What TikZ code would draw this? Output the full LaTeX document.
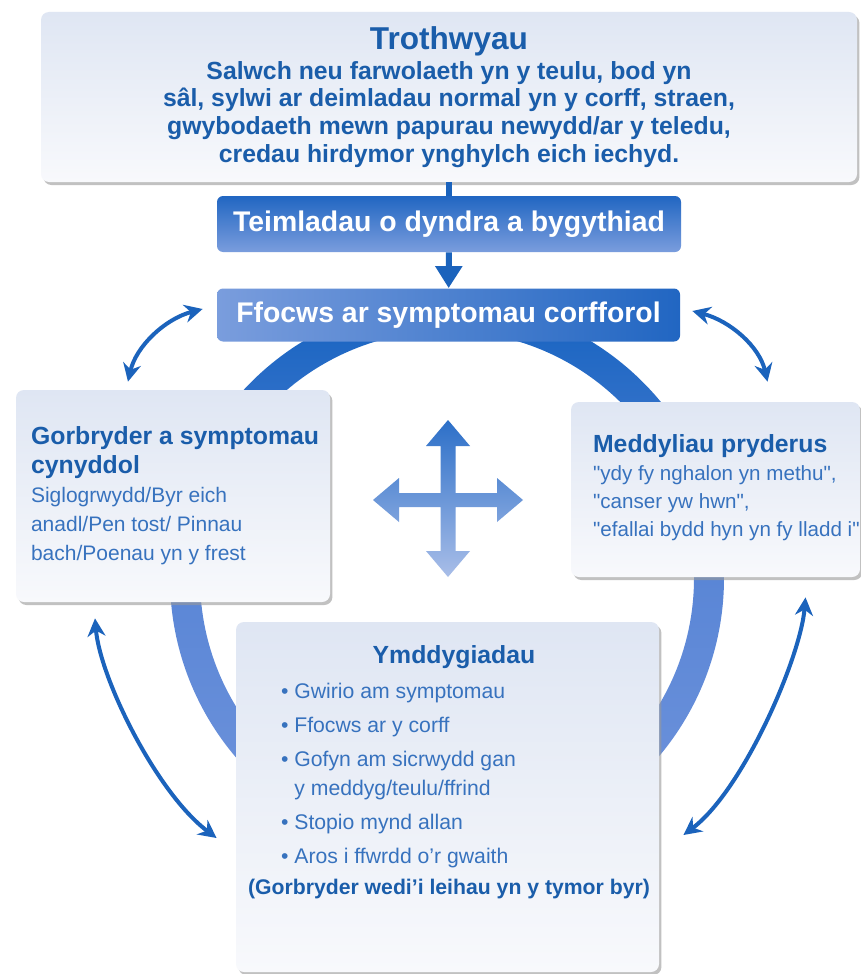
\documentclass[tikz,border=0pt]{standalone}
\usepackage{fontspec}
\setmainfont{Liberation Sans}
\usepackage{xcolor}
\usepackage{tikz}
\usetikzlibrary{arrows.meta,calc,positioning,shadows}

\definecolor{titleblue}{HTML}{1A5DAA}
\definecolor{bodyblue}{HTML}{3772BE}
\definecolor{arrowblue}{HTML}{1B63BC}
\definecolor{bnlight}{HTML}{7A9DDD}
\definecolor{bndark}{HTML}{2166C2}
\definecolor{boxtop}{HTML}{DFE6F3}
\definecolor{boxbot}{HTML}{F8F9FC}
\definecolor{ringtop}{HTML}{1562C0}
\definecolor{ringmid}{HTML}{5A86D6}
\definecolor{ringbot}{HTML}{7094DC}
\definecolor{crosstop}{HTML}{2C6FC8}
\definecolor{crossbot}{HTML}{A9BEE8}

\newcommand{\boxtitle}[1]{{\color{titleblue}\bfseries\fontsize{12.4}{14}\selectfont #1}}
\newcommand{\qq}{\textquotedbl}

\tikzset{
  infobox/.style={rounded corners=4pt, top color=boxtop, bottom color=boxbot, inner sep=0pt,
    drop shadow={shadow xshift=1.2pt, shadow yshift=-1.5pt, fill=black!40, opacity=.6}},
  banner/.style={rounded corners=3pt, text=white, inner sep=0pt,
    font=\bfseries\fontsize{14.2}{16}\selectfont},
  link/.style={arrowblue, line width=3pt},
  twoway/.style={arrowblue, line width=2pt,
    {Stealth[length=9pt,width=9pt]}-{Stealth[length=9pt,width=9pt]}},
}

\begin{document}
\begin{tikzpicture}[x=0.5pt,y=-0.5pt]
\fill[white] (0,0) rectangle (861,974);
\useasboundingbox (0,0) rectangle (861,974);

% ring behind the boxes
\shade[even odd rule, top color=ringtop, bottom color=ringbot, middle color=ringmid]
  (447,578) circle [radius=277] (447,578) circle [radius=247];

\node[infobox, minimum width=408pt, minimum height=85pt, align=center, text=titleblue,
  font=\bfseries\fontsize{12.4}{13.8}\selectfont] (thr) at (449,97)
  {{\fontsize{15.8}{17}\selectfont Trothwyau}\\[1pt]
   Salwch neu farwolaeth yn y teulu, bod yn\\
   sâl, sylwi ar deimladau normal yn y corff, straen,\\
   gwybodaeth mewn papurau newydd/ar y teledu,\\
   credau hirdymor ynghylch eich iechyd.};

\node[banner, top color=bndark, bottom color=bnlight, minimum width=232pt, minimum height=28pt]
  (feel) at (449,224) {Teimladau o dyndra a bygythiad};
\node[banner, left color=bnlight, right color=bndark, minimum width=231.5pt, minimum height=26.5pt]
  (focus) at (448.5,315) {Ffocws ar symptomau corfforol};

\node[infobox, minimum width=157pt, minimum height=106pt] (anx) at (173,496) {};
\node[anchor=north west, align=left, text=bodyblue, font=\fontsize{10.5}{14.5}\selectfont]
  (anxtxt) at (24,419)
  {\boxtitle{Gorbryder a symptomau}\\\boxtitle{cynyddol}\\
   Siglogrwydd/Byr eich\\anadl/Pen tost/ Pinnau\\bach/Poenau yn y frest};

\node[infobox, minimum width=144.5pt, minimum height=87.5pt] (thought) at (715.5,489.5) {};
\node[anchor=north west, align=left, text=bodyblue, font=\fontsize{10.3}{14}\selectfont]
  (thoughttxt) at (586,427)
  {\boxtitle{Meddyliau pryderus}\\\qq ydy fy nghalon yn methu\qq,\\\qq canser yw hwn\qq,\\
   \qq efallai bydd hyn yn fy lladd i\qq};

\node[infobox, minimum width=211.5pt, minimum height=175pt] (behav) at (447.5,797) {};
\node[text=titleblue, font=\bfseries\fontsize{12.4}{14}\selectfont] (behavttl) at (454,657) {Ymddygiadau};
\node[anchor=north west, align=left, text=bodyblue, font=\fontsize{10.6}{14.5}\selectfont]
  (behavlist) at (274,676)
  {• Gwirio am symptomau\\[2.5pt]
   • Ffocws ar y corff\\[2.5pt]
   • Gofyn am sicrwydd gan\\
   \phantom{• }y meddyg/teulu/ffrind\\[2.5pt]
   • Stopio mynd allan\\[2.5pt]
   • Aros i ffwrdd o’r gwaith};
\node[text=titleblue, font=\bfseries\fontsize{10.6}{12}\selectfont] (behavnote) at (449,889)
  {(Gorbryder wedi’i leihau yn y tymor byr)};

% four-way arrow in the middle
\begin{scope}[shift={(448,500)}]
\shade[top color=crosstop, bottom color=crossbot]
  (0,-80) -- (22,-54) -- (7.5,-54) -- (7.5,-7) -- (49,-7) -- (49,-22) -- (75,0)
  -- (49,22) -- (49,7) -- (7.5,7) -- (7.5,51) -- (22,51) -- (0,77) -- (-22,51)
  -- (-7.5,51) -- (-7.5,7) -- (-49,7) -- (-49,22) -- (-75,0) -- (-49,-22)
  -- (-49,-7) -- (-7.5,-7) -- (-7.5,-54) -- (-22,-54) -- cycle;
\end{scope}

\draw[link] (thr) -- (feel);
\draw[link, -{Triangle[length=11pt,width=13pt]}] (feel) -- (focus);

\draw[twoway] ($(anx.north)+(-45,-8)$) .. controls +(8,-35) and +(-38,10) .. ($(focus.west)+(-14,-6)$);
\draw[twoway] ($(focus.east)+(12,-4)$) .. controls +(38,10) and +(-8,-35) .. ($(thought.north)+(52,-20)$);
\draw[twoway] ($(anx.south)+(-78,16)$) .. controls +(5,60) and +(-60,-45) .. ($(behav.west)+(-19,41)$);
\draw[twoway] ($(thought.south)+(90,20)$) .. controls +(-5,60) and +(60,-45) .. ($(behav.east)+(24,38)$);
\end{tikzpicture}
\end{document}
